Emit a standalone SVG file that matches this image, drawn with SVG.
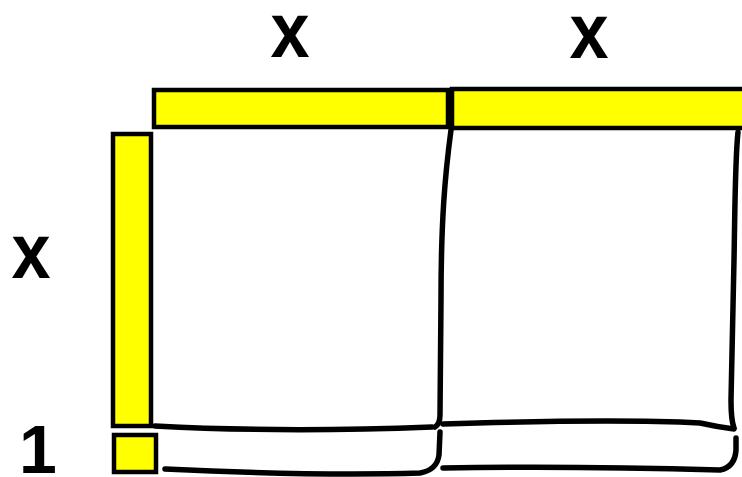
<svg xmlns="http://www.w3.org/2000/svg" width="742" height="477" viewBox="0 0 742 477">
<style>
.bar{fill:#ffff00;stroke:#000;stroke-width:4.5;stroke-linejoin:miter}
.lbl{font-family:"Liberation Sans",Arial,sans-serif;font-weight:bold;fill:#000;text-anchor:middle}
.ln{fill:none;stroke:#000;stroke-width:5.5;stroke-linecap:round;stroke-linejoin:round}
</style>
<rect width="742" height="477" fill="#fff"/>
<g id="label-x-top-left"><text class="lbl" font-size="78" transform="translate(290,57) scale(0.9,1)">x</text></g>
<g id="label-x-top-right"><text class="lbl" font-size="78" transform="translate(589,58) scale(0.9,1)">x</text></g>
<g id="label-x-left"><text class="lbl" font-size="78" transform="translate(31,278) scale(0.9,1)">x</text></g>
<g id="label-1"><text class="lbl" font-size="68" x="38" y="473">1</text></g>
<g id="bar-top-1"><rect class="bar" x="154" y="90" width="294" height="37"/></g>
<g id="bar-top-2"><rect class="bar" x="452" y="89" width="300" height="39"/></g>
<g id="bar-left"><rect class="bar" x="113" y="134" width="38" height="292"/></g>
<g id="square-1"><rect class="bar" x="114" y="435" width="42" height="37"/></g>
<g id="connectors">
<path class="ln" d="M155,426 C230,430 330,431 432,427"/>
<path class="ln" d="M451,130 C445,175 441,220 441,300 L440,415 Q440,424 435,427"/>
<path class="ln" d="M443,424 C540,421 640,420 700,423 Q718,427 734,429"/>
<path class="ln" d="M738,132 C735,160 735,210 734,260 L731,400 Q731,420 734,428"/>
<path class="ln" d="M165,469 C250,473 350,475 420,473 Q437,470 439,455 L440,432"/>
<path class="ln" d="M443,468 C550,466 650,468 720,470 Q735,467 736,450 L736,438"/>
</g>
</svg>
